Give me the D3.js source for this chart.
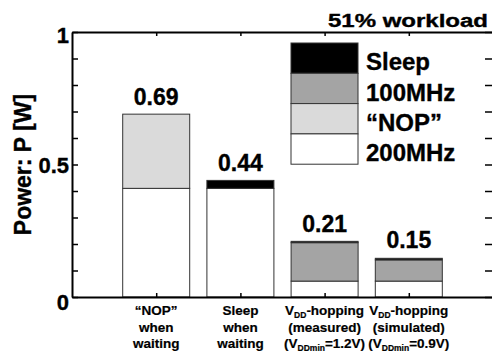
<!DOCTYPE html>
<html>
<head>
<meta charset="utf-8">
<script src="https://cdn.jsdelivr.net/npm/d3@7"></script>
<style>
  body { margin: 0; background: #fff; }
  text { font-family: "Liberation Sans", Arial, sans-serif; font-weight: bold; fill: #000; stroke: #000; stroke-width: 0.35px; }
</style>
</head>
<body>
<svg id="chart"></svg>
<script>
// data
const categories = ["NOP when waiting", "Sleep when waiting", "VDD-hopping measured", "VDD-hopping simulated"];
const power200 = [0.41, 0.41, 0.06, 0.06];
const powerNop = [0.28, 0, 0, 0];
const power100 = [0, 0, 0.145, 0.08];
const powerSleep = [0, 0.03, 0.005, 0.006];
const totalLabels = ["0.69", "0.44", "0.21", "0.15"];
const yTicks = [0, 0.5, 1];
const keys = ["200MHz", "\u201CNOP\u201D", "100MHz", "Sleep"];
const fills = ["#ffffff", "#dadada", "#a4a4a4", "#000000"];

const width = 492, height = 354;
const margin = {top: 32, right: -1, bottom: 57, left: 72};

const svg = d3.select("#chart").attr("width", width).attr("height", height);

const x = d3.scaleLinear().domain([0, categories.length + 1])
  .range([margin.left, width - margin.right]);
const y = d3.scaleLinear().domain([0, 1]).range([height - margin.bottom, margin.top]);
const barW = 67;

const rows = categories.map((c, i) => ({
  cat: c, i: i,
  "200MHz": power200[i], "\u201CNOP\u201D": powerNop[i], "100MHz": power100[i], "Sleep": powerSleep[i]
}));
const series = d3.stack().keys(keys)(rows);

// bars
svg.append("g").selectAll("g")
  .data(series).join("g")
  .attr("fill", (d, k) => fills[k])
  .selectAll("rect")
  .data(d => d.filter(s => s[1] - s[0] > 0)).join("rect")
  .attr("x", d => x(d.data.i + 1) - barW / 2)
  .attr("width", barW)
  .attr("y", d => y(d[1]))
  .attr("height", d => y(d[0]) - y(d[1]))
  .attr("stroke", "#333")
  .attr("stroke-width", 1);

// total labels
svg.append("g").selectAll("text")
  .data(totalLabels).join("text")
  .attr("x", (d, i) => x(i + 1))
  .attr("y", (d, i) => y(+d) - 9)
  .attr("text-anchor", "middle")
  .style("font-size", "23px")
  .text(d => d);

// axes: box with inward ticks
const ax = svg.append("g");
ax.append("g")
  .attr("transform", `translate(${margin.left},0)`)
  .call(d3.axisLeft(y).tickValues(d3.range(0, 1.01, 0.1)).tickSizeInner(-6).tickSizeOuter(0).tickFormat(""));
ax.append("g")
  .attr("transform", `translate(${width - margin.right},0)`)
  .call(d3.axisRight(y).tickValues(d3.range(0, 1.01, 0.1)).tickSizeInner(-8).tickSizeOuter(0).tickFormat(""));
ax.append("g")
  .attr("transform", `translate(0,${y(0)})`)
  .call(d3.axisBottom(x).tickValues(d3.range(1, categories.length + 1)).tickSizeInner(-4).tickSizeOuter(0).tickFormat(""));
ax.append("g")
  .attr("transform", `translate(0,${y(1)})`)
  .call(d3.axisTop(x).tickValues(d3.range(1, categories.length + 1)).tickSizeInner(-4).tickSizeOuter(0).tickFormat(""));
ax.selectAll(".domain, .tick line").attr("stroke", "#000").attr("stroke-width", 2);
ax.selectAll(".tick line").attr("stroke-width", 1.5);

// y tick labels
svg.append("g").selectAll("text")
  .data(yTicks).join("text")
  .attr("x", margin.left - 3)
  .attr("y", d => y(d) + 8 + (d === 0 ? 5 : d === 1 ? 3 : 0))
  .attr("text-anchor", "end")
  .style("font-size", "22px")
  .text(d => d);

// y title
svg.append("text")
  .attr("transform", `translate(31,${y(0.5)}) rotate(-90)`)
  .attr("text-anchor", "middle")
  .style("font-size", "23px")
  .text("Power: P [W]");

// title
svg.append("text")
  .attr("x", 328).attr("y", 27)
  .attr("textLength", 160).attr("lengthAdjust", "spacingAndGlyphs")
  .style("font-size", "18px")
  .text("51% workload");

// category labels (with subscripts)
const catLines = [
  [[["\u201CNOP\u201D", 0]], [["when", 0]], [["waiting", 0]]],
  [[["Sleep", 0]], [["when", 0]], [["waiting", 0]]],
  [[["V", 0], ["DD", 1], ["-hopping", 0]], [["(measured)", 0]], [["(V", 0], ["DDmin", 1], ["=1.2V)", 0]]],
  [[["V", 0], ["DD", 1], ["-hopping", 0]], [["(simulated)", 0]], [["(V", 0], ["DDmin", 1], ["=0.9V)", 0]]]
];
const lab = svg.append("g");
catLines.forEach((lines, i) => {
  lines.forEach((parts, j) => {
    const t = lab.append("text")
      .attr("x", x(i + 1))
      .attr("y", 315 + j * 16.5)
      .attr("text-anchor", "middle")
      .style("font-size", "13.5px")
      .style("stroke-width", "0.2px");
    parts.forEach(p => {
      t.append("tspan")
        .attr("baseline-shift", p[1] ? "-3" : null)
        .style("font-size", p[1] ? "8.5px" : null)
        .text(p[0]);
    });
  });
});

// legend
const legX = 291, legY = 43, cellW = 67, cellH = 30.3;
const leg = svg.append("g");
const legKeys = keys.slice().reverse();
const legFills = fills.slice().reverse();
legKeys.forEach((k, n) => {
  leg.append("rect")
    .attr("x", legX).attr("y", legY + n * cellH)
    .attr("width", cellW).attr("height", cellH)
    .attr("fill", legFills[n]).attr("stroke", "#333").attr("stroke-width", 1);
  leg.append("text")
    .attr("x", legX + cellW + 8)
    .attr("y", legY + (n + 1) * cellH - 3)
    .style("font-size", "24px")
    .text(k);
});
</script>
</body>
</html>
